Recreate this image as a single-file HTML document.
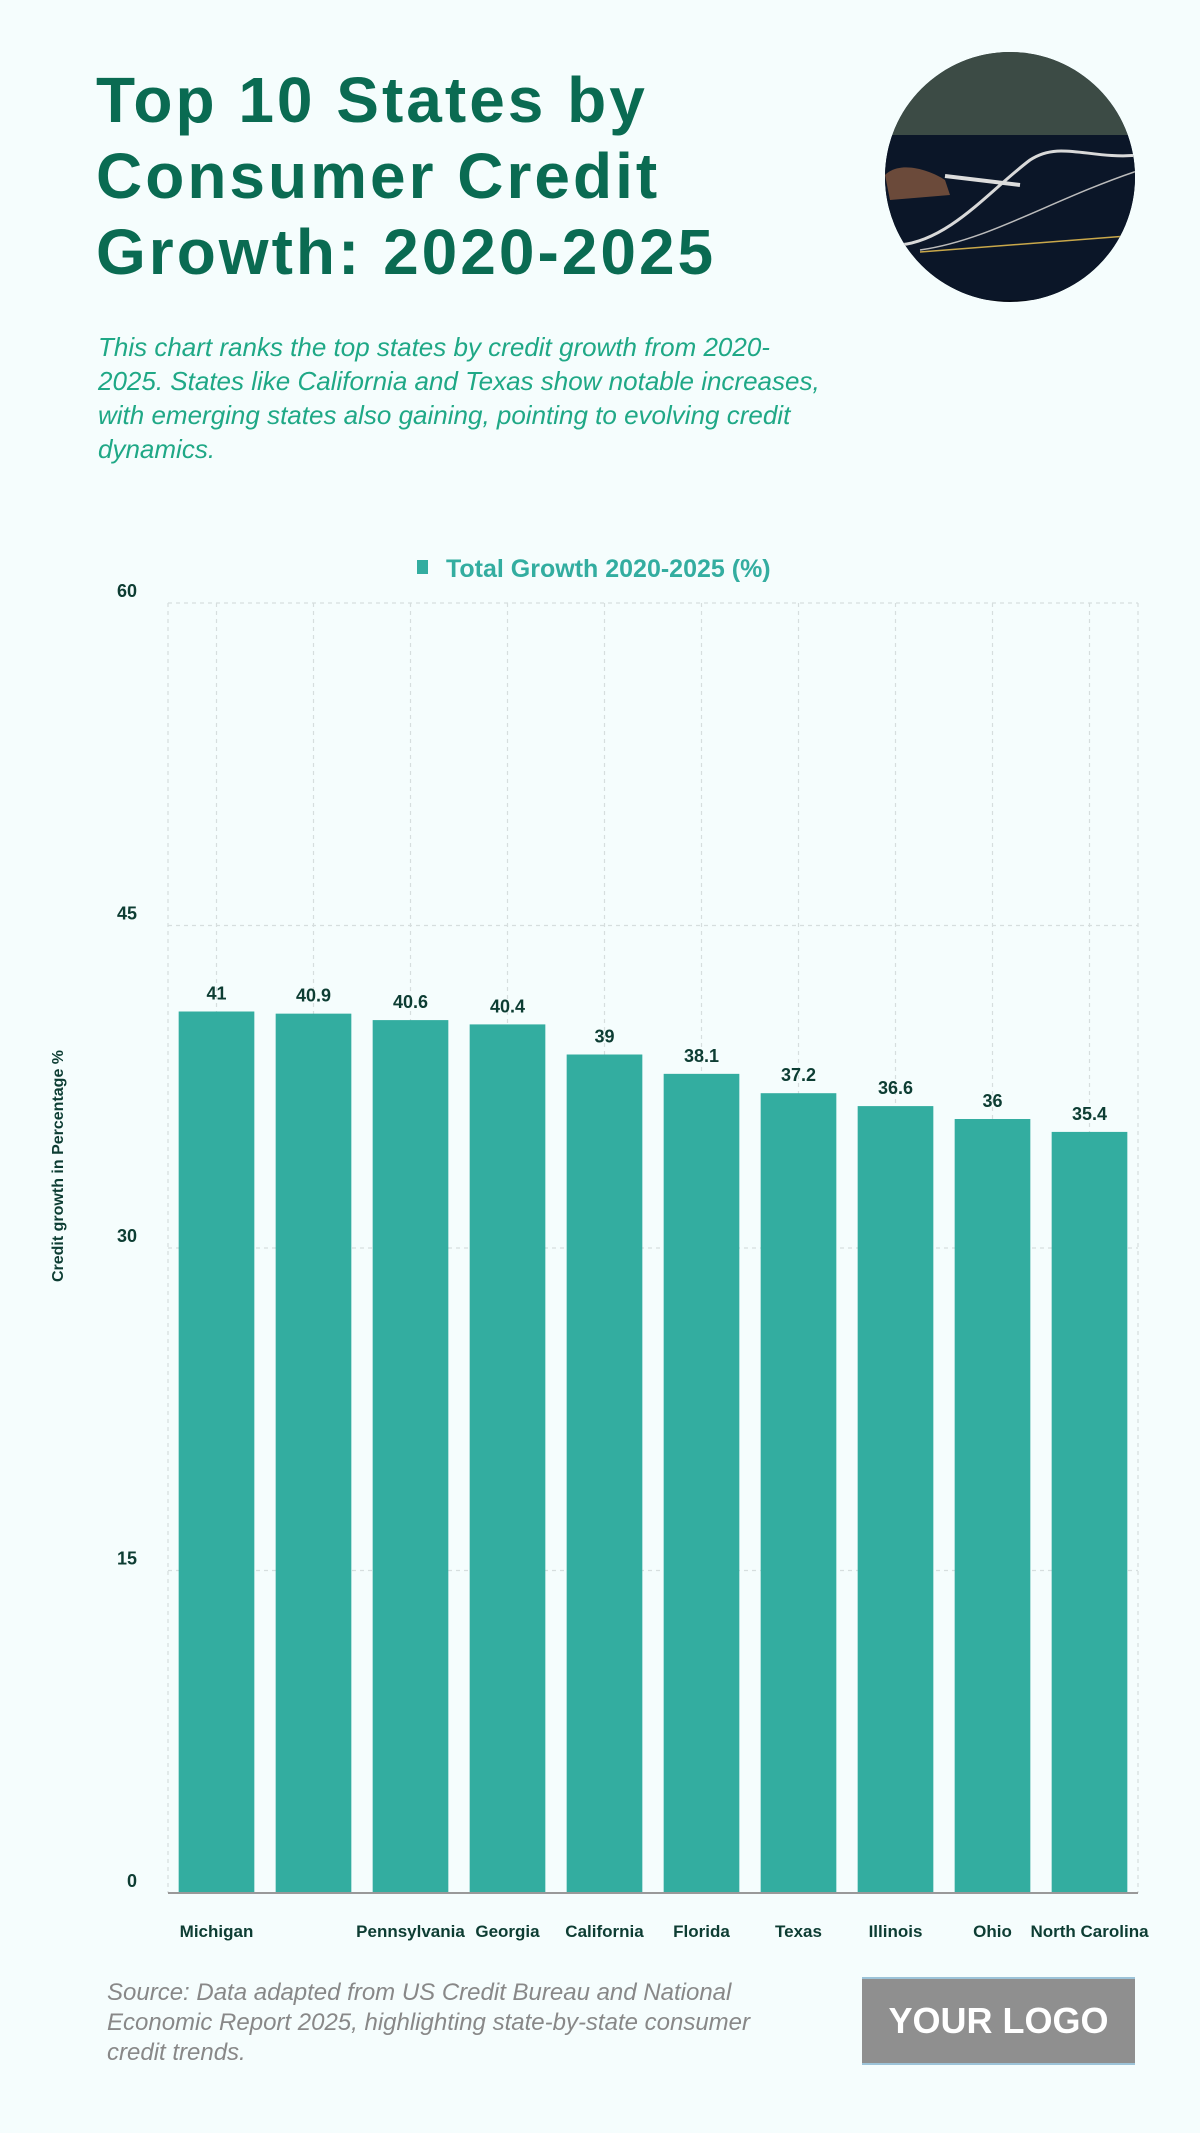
<!DOCTYPE html>
<html><head><meta charset="utf-8">
<style>
html,body{margin:0;padding:0;background:#f5fdfd;}
body{width:1200px;height:2133px;position:relative;overflow:hidden;font-family:"Liberation Sans",sans-serif;}
#title{position:absolute;left:96px;top:62px;margin:0;font-size:64px;line-height:76px;font-weight:bold;color:#0a6b52;letter-spacing:3px;}
#subtitle{position:absolute;left:98px;top:330px;width:900px;margin:0;font-size:26px;line-height:34px;font-style:italic;color:#1fa886;}
#source{position:absolute;left:107px;top:1978px;width:700px;font-size:24px;line-height:30px;font-style:italic;color:#888;}
#logo{position:absolute;left:862px;top:1977px;width:273px;height:88px;background:#8f8f8f;border-top:2px solid #9cc3d8;border-bottom:2px solid #9cc3d8;color:#fff;font-weight:bold;font-size:36px;display:flex;align-items:center;justify-content:center;box-sizing:border-box;}
svg{position:absolute;left:0;top:0;}
</style></head><body>
<h1 id="title">Top 10 States by<br>Consumer Credit<br>Growth: 2020-2025</h1>
<p id="subtitle">This chart ranks the top states by credit growth from 2020-<br>2025. States like California and Texas show notable increases,<br>with emerging states also gaining, pointing to evolving credit<br>dynamics.</p>
<svg id="photo" width="1200" height="320" style="pointer-events:none">
<defs><clipPath id="cc"><circle cx="1010" cy="177" r="125"/></clipPath>
<linearGradient id="bg" x1="0" y1="0" x2="0" y2="1"><stop offset="0" stop-color="#2b3a36"/><stop offset="0.35" stop-color="#0d1a2c"/><stop offset="1" stop-color="#050a14"/></linearGradient></defs>
<g clip-path="url(#cc)">
<rect x="880" y="50" width="260" height="260" fill="url(#bg)"/>
<rect x="880" y="50" width="260" height="85" fill="#3c4b45"/>
<path d="M880 135 L1140 135 L1140 300 L880 300Z" fill="#0b1628"/>
<path d="M900 245 C950 240 990 190 1030 160 C1060 140 1090 160 1140 155" stroke="#d9d9d9" stroke-width="3" fill="none"/>
<path d="M920 250 C990 240 1050 200 1140 170" stroke="#bbb" stroke-width="1.5" fill="none"/>
<path d="M920 252 L1140 235" stroke="#c9a84a" stroke-width="1.5" fill="none"/>
<path d="M885 175 C900 160 930 170 945 180 L950 195 L890 200Z" fill="#6b4a3a"/>
<path d="M945 176 L1020 185" stroke="#ddd" stroke-width="4"/>
</g></svg>
<svg id="chart" width="1200" height="2133"></svg>
<div id="source">Source: Data adapted from US Credit Bureau and National<br>Economic Report 2025, highlighting state-by-state consumer<br>credit trends.</div>
<div id="logo">YOUR LOGO</div>
<script>
const categories=["Michigan","","Pennsylvania","Georgia","California","Florida","Texas","Illinois","Ohio","North Carolina"];
const values=[41,40.9,40.6,40.4,39,38.1,37.2,36.6,36,35.4];
const valueLabels=["41","40.9","40.6","40.4","39","38.1","37.2","36.6","36","35.4"];
const yTicks=[0,15,30,45,60];
const NS="http://www.w3.org/2000/svg";
const svg=document.getElementById('chart');
const L=168,R=1138,T=603,B=1893,yMax=60;
const y=v=>B-(v/yMax)*(B-T);
const band=(R-L)/categories.length;
const xc=i=>L+band*(i+0.5);
function mk(tag,attrs,text){const e=document.createElementNS(NS,tag);for(const k in attrs)e.setAttribute(k,attrs[k]);if(text!==undefined)e.textContent=text;svg.appendChild(e);return e;}
yTicks.forEach(t=>{
 if(t>0){const g=mk('line',{x1:L,x2:R,y1:y(t),y2:y(t),stroke:'#d6dede','stroke-dasharray':'4,4','stroke-width':1.2});
 
 }
 const tl=mk('text',{x:137,y:y(t)-6,'text-anchor':'end','font-size':18,'font-weight':'bold',fill:'#0d3d33'},String(t));
 
 
});
[L,R].forEach(xx=>{const g=mk('line',{x1:xx,x2:xx,y1:T,y2:B,stroke:'#d6dede','stroke-dasharray':'4,4','stroke-width':1.2});
 
 });
categories.forEach((c,i)=>{const g=mk('line',{x1:xc(i),x2:xc(i),y1:T,y2:B,stroke:'#d6dede','stroke-dasharray':'4,4','stroke-width':1.2});
 
 });
const bw=band*0.78;
values.forEach((v,i)=>{
 const r=mk('rect',{x:xc(i)-bw/2,y:y(v),width:bw,height:B-y(v),fill:'#33ada0'});
 
 
 const t=mk('text',{x:xc(i),y:y(v)-12,'text-anchor':'middle','font-size':18,'font-weight':'bold',fill:'#0d3d33'},valueLabels[i]);
 
 
 const c=mk('text',{x:xc(i),y:1937,'text-anchor':'middle','font-size':17,'font-weight':'bold',fill:'#0d3d33'},categories[i]);
 
 
});
const ax=mk('line',{x1:L,x2:R,y1:B,y2:B,stroke:'#999','stroke-width':2});


const yt=mk('text',{x:0,y:0,transform:'translate(63,1166) rotate(-90)','text-anchor':'middle','font-size':16,'font-weight':'bold',fill:'#0d3d33'},'Credit growth in Percentage %');


const lm=mk('rect',{x:417,y:560,width:11,height:14,fill:'#33ada0'});


const lt=mk('text',{x:446,y:577,'font-size':25,'font-weight':'bold',fill:'#33ada0'},'Total Growth 2020-2025 (%)');


</script>
</body></html>
